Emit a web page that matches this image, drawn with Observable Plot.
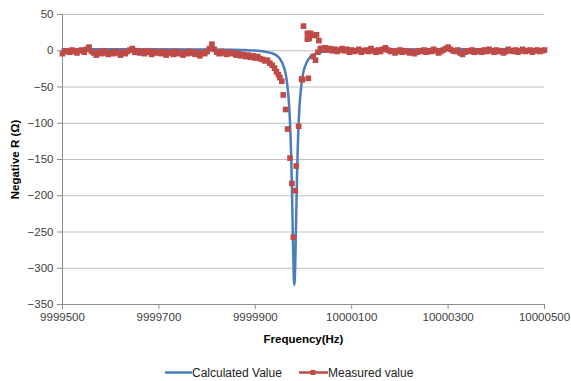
<!DOCTYPE html>
<html>
<head>
<meta charset="utf-8">
<script src="https://cdn.jsdelivr.net/npm/d3@7"></script>
<script src="https://cdn.jsdelivr.net/npm/@observablehq/plot@0.6"></script>
<style>
  html, body { margin: 0; padding: 0; background: #fff; }
  #chart { width: 571px; height: 381px; position: relative; font-family: "Liberation Sans", Arial, sans-serif; }
  #chart svg { display: block; }
  #chart svg [aria-label="y-axis label"],
  #chart svg [aria-label="x-axis label"] { font-weight: bold; fill: #000; font-size: 11.5px; }
  .legend { position: absolute; top: 364px; left: 0; width: 571px; height: 17px; font-size: 12px; color: #222; }
  .item { position: absolute; top: 0; display: flex; align-items: center; height: 17px; }
</style>
</head>
<body>
<div id="chart"></div>
<script>
// ---- Data ----
// Calculated value curve
const calcFreq = [9999500, 9999650, 9999800, 9999850, 9999880, 9999900, 9999920, 9999935, 9999945, 9999951,
  9999956, 9999961, 9999963, 9999965, 9999967, 9999969, 9999971, 9999972, 9999973, 9999974, 9999975,
  9999976, 9999977, 9999978, 9999979, 9999980, 9999981, 9999982, 9999983, 9999984, 9999985, 9999986,
  9999987, 9999988, 9999989, 9999990, 9999991, 9999993, 9999995, 9999997, 9999999, 10000001, 10000006,
  10000011, 10000017, 10000027, 10000042, 10000062, 10000082, 10000112, 10000162, 10000300, 10000500];
const calcR = [2, 2, 1.8, 1.4, 0.9, 0.2, -1.3, -3.5, -7, -11,
  -17, -26, -32, -40, -51, -65, -85, -99, -116, -136, -161,
  -190, -224, -258, -291, -314, -323, -314, -291, -258, -224, -190,
  -161, -136, -116, -99, -85, -65, -51, -40, -32, -26, -17,
  -11, -7, -3.5, -1.3, 0.2, 0.9, 1.4, 1.8, 2, 2];

// Measured value: flat left section (5 Hz spacing from 9999500)
const leftStart = 9999500, leftStep = 5;
const leftR = [-4, -1, 0, -2, 1, -1, -3, 0, 1, -2, 2, 5, -1, -3, -6, -2, -4, 0, -3, -5,
  -2, -4, -1, -3, -6, -2, -4, -1, 1, 3, -2, 0, -3, -1, -4, 0, -2, -5, -1, -3,
  -2, -4, -1, -6, -3, -2, -5, -1, -4, -3, -6, -2, -4, -1, -3, -5, -2, -7, -3, -4,
  -1, 3, 9, 2, -2, -4, -1, -3, -5, -2, -4];
// Measured value: approach to and through the resonance
const dipFreq = [9999855, 9999860, 9999865, 9999870, 9999875, 9999880, 9999885, 9999890, 9999895, 9999900,
  9999905, 9999910, 9999915, 9999920, 9999925, 9999930, 9999935, 9999940, 9999944, 9999948, 9999951, 9999955,
  9999958, 9999963, 9999967, 9999972, 9999976, 9999979, 9999983, 9999985, 9999990, 9999996,
  9999998, 10000000, 10000008, 10000008, 10000010, 10000012, 10000015, 10000020, 10000022, 10000025, 10000027,
  10000030, 10000032, 10000035, 10000038];
const dipR = [-3, -6, -4, -7, -5, -8, -6, -9, -7, -10,
  -8, -11, -12, -14, -13, -17, -20, -24, -29, -33, -37, -42,
  -61, -81, -108, -148, -183, -257, -193, -159, -104, -39,
  -40, 34, 24, 16, -38, 17, 24, -8, 21, -13, 22,
  -2, 14, 3, 3];
// Measured value: flat right section (5 Hz spacing from 10000040)
const rightStart = 10000040, rightStep = 5;
const rightR = [2, 4, 1, 3, 0, 2, -1, 1, 3, 0, 2, -2, 1, -1, 0, 2, -2, 0, 1, -1,
  3, 0, -2, 1, -1, 2, 4, 1, -1, 0, -3, -1, 1, -2, 0, -1, -3, -1, -4, -2,
  0, -1, 1, -2, 0, -1, 2, 0, -3, -1, 1, 3, 5, 2, 0, -1, 1, -3, -5, -2,
  0, -1, 1, -2, -1, 0, -2, 1, -1, 2, 0, -2, 1, -1, 0, -3, -1, 2, 0, -1,
  1, -2, 0, 2, -1, 0, 1, -2, 0, 1, -1, 0, 1];

const xTicks = [9999500, 9999700, 9999900, 10000100, 10000300, 10000500];
const yTicks = [50, 0, -50, -100, -150, -200, -250, -300, -350];

// ---- Build tables ----
const calc = calcFreq.map((f, i) => ({f, r: calcR[i]}));
const measured = [
  ...leftR.map((r, i) => ({f: leftStart + i * leftStep, r})),
  ...dipFreq.map((f, i) => ({f, r: dipR[i]})),
  ...rightR.map((r, i) => ({f: rightStart + i * rightStep, r}))
];

const blue = "#4A7EBB", red = "#BE4B48", grid = "#BFBFBF", axisCol = "#8C8C8C";

const plot = Plot.plot({
  width: 571,
  height: 358,
  marginLeft: 62,
  marginRight: 27,
  marginTop: 14,
  marginBottom: 54,
  style: {fontFamily: "'Liberation Sans', Arial, sans-serif", fontSize: "11.5px", color: "#404040", background: "#fff"},
  x: {domain: [9999500, 10000500]},
  y: {domain: [-350, 50]},
  marks: [
    Plot.gridY(yTicks, {stroke: grid, strokeOpacity: 1, strokeWidth: 1}),
    Plot.ruleX([9999500], {stroke: axisCol}),
    Plot.ruleY([-350], {stroke: axisCol}),
    Plot.axisX(xTicks, {tickFormat: d3.format("d"), tickSize: 5, tickPadding: 3, stroke: axisCol,
      label: "Frequency(Hz)", labelAnchor: "center", labelArrow: "none", labelOffset: 38, fill: "#404040"}),
    Plot.axisY(yTicks, {tickSize: 5, tickPadding: 4, stroke: axisCol,
      label: "Negative R (Ω)", labelAnchor: "center", labelArrow: "none", labelOffset: 52, fill: "#404040"}),
    Plot.line(calc, {x: "f", y: "r", stroke: blue, strokeWidth: 2.5, curve: "monotone-x"}),
    Plot.dot(measured, {x: "f", y: "r", symbol: "square", r: 3.2, fill: red, stroke: "none"})
  ]
});
const chart = document.getElementById("chart");
chart.appendChild(plot);

// Legend
const legend = document.createElement("div");
legend.className = "legend";
legend.innerHTML = `
  <div class="item" style="left:165px"><svg width="27" height="17"><line x1="0" y1="8.5" x2="27" y2="8.5" stroke="${blue}" stroke-width="2.5"/></svg><span>Calculated Value</span></div>
  <div class="item" style="left:299px"><svg width="29" height="17"><line x1="0" y1="8.5" x2="29" y2="8.5" stroke="${red}" stroke-width="2.5"/><rect x="11.5" y="6" width="5" height="5" fill="${red}"/></svg><span>Measured value</span></div>`;
chart.appendChild(legend);
</script>
</body>
</html>
